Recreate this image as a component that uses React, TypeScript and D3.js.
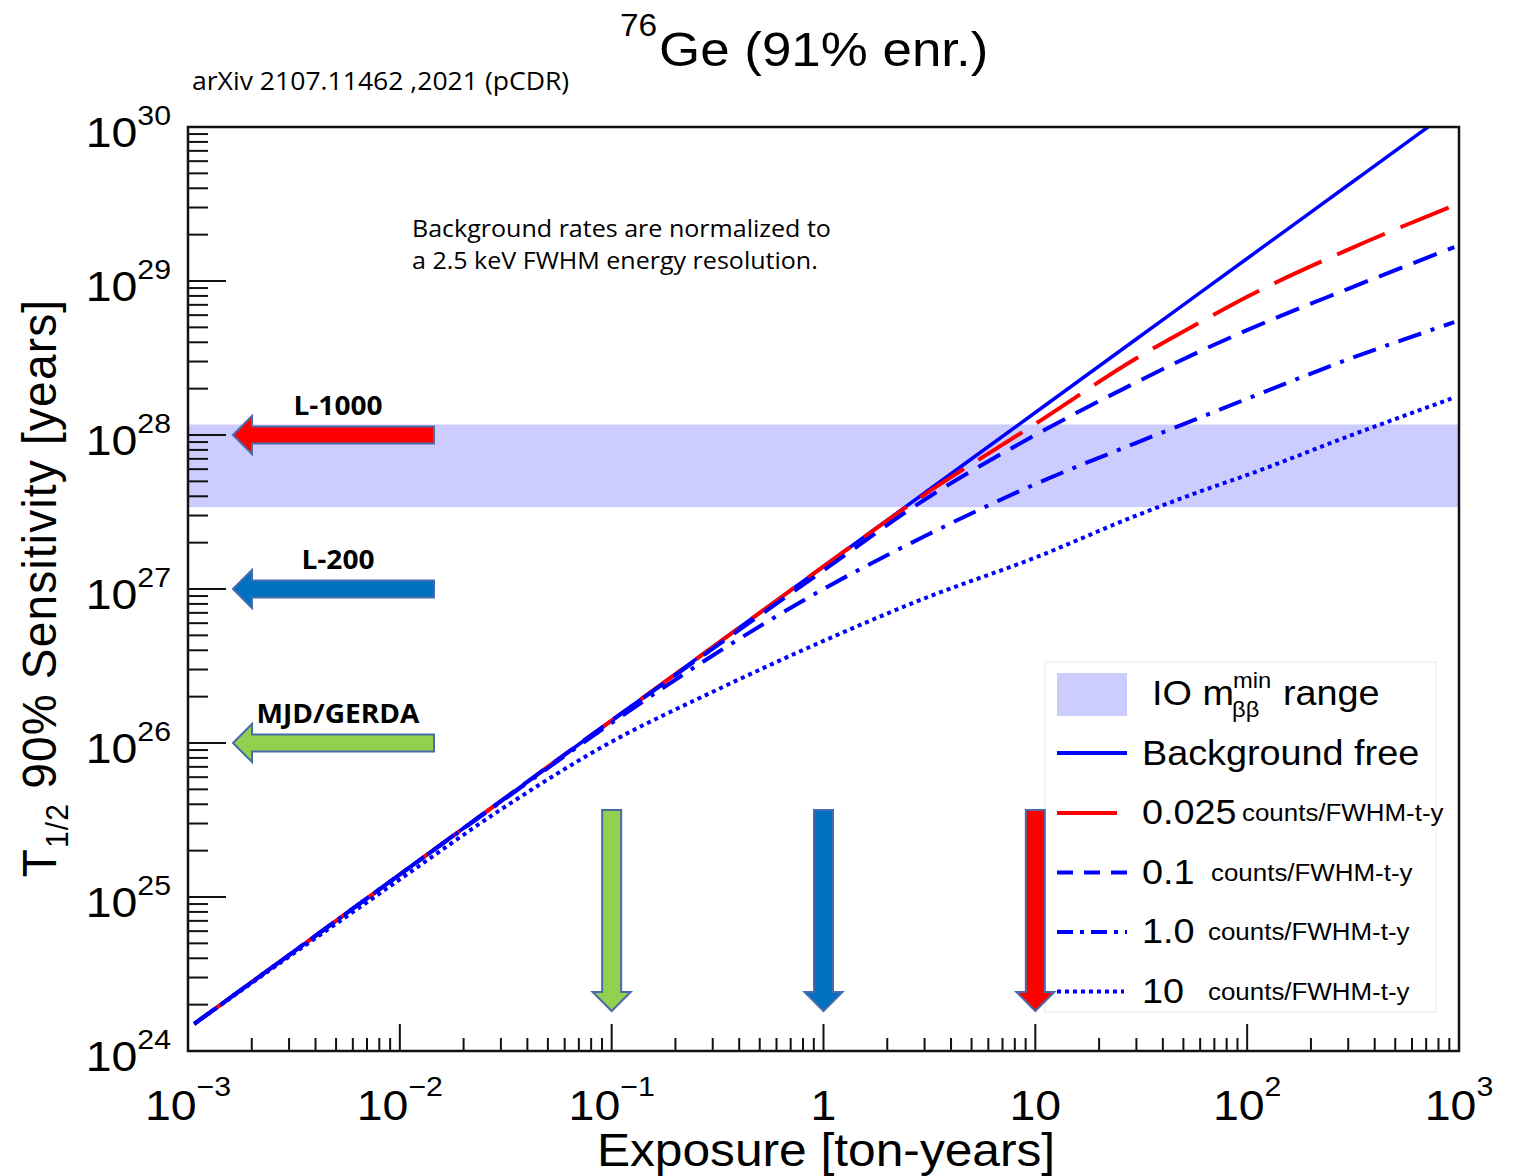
import React from 'react'
import * as d3 from 'd3'

// exposure in ton-years, sensitivity in years
const exposures = [0.00107, 0.003, 0.01, 0.03, 0.1, 0.3, 1, 3, 10, 30, 60, 100, 300, 950]
const bgFree = [1.5e24, 4.2e24, 1.4e25, 4.2e25, 1.4e26, 4.2e26, 1.4e27, 4.2e27, 1.4e28, 4.2e28, 8.4e28, 1.4e29, 4.2e29, 1.33e30]
const bkg0025 = [1.5e24, 4.2e24, 1.4e25, 4.2e25, 1.4e26, 4.2e26, 1.4e27, 4.1e27, 1.18e28, 3.15e28, 5.4e28, 7.9e28, 1.6e29, 3.1e29]
const bkg01 = [1.5e24, 4.2e24, 1.4e25, 4.2e25, 1.4e26, 4.1e26, 1.32e27, 3.8e27, 1.0e28, 2.2e28, 3.5e28, 4.8e28, 8.9e28, 1.66e29]
const bkg1 = [1.5e24, 4.2e24, 1.4e25, 4.15e25, 1.35e26, 3.7e26, 1.0e27, 2.2e27, 4.8e27, 8.9e27, 1.3e28, 1.72e28, 3.1e28, 5.4e28]
const bkg10 = [1.5e24, 4.1e24, 1.3e25, 3.7e25, 1.02e26, 2.15e26, 4.6e26, 8.7e26, 1.6e27, 3.0e27, 4.3e27, 5.5e27, 9.8e27, 1.75e28]

const ioBand = [3.4e27, 1.17e28]

const experiments = ['L-1000', 'L-200', 'MJD/GERDA']
const expSensitivity = [1e28, 1e27, 1e26]
const expExposure = [10, 1, 0.1]
const expColors = ['#ff0000', '#0070c0', '#92d050']

const legendRates = ['0.025', '0.1', '1.0', '10']
const xTickExp = [-3, -2, -1, 0, 1, 2, 3]
const yTickExp = [24, 25, 26, 27, 28, 29, 30]

const W = 1519
const H = 1176
const left = 188, right = 1459, top = 127, bottom = 1051
const SX = 1.08
const ARIAL = 'Liberation Sans, Arial, sans-serif'
const SEGOE = 'Open Sans, sans-serif'

const x = d3.scaleLog().domain([1e-3, 1e3]).range([left, right])
const y = d3.scaleLog().domain([1e24, 1e30]).range([bottom, top])

const line = d3
  .line<number>()
  .x((_, i) => x(exposures[i]))
  .y(d => y(d))
  .curve(d3.curveMonotoneX)

const T = ({ x, y, size, anchor = 'start', weight = 400, family = ARIAL, children }: any) => (
  <text
    transform={`translate(${x},${y}) scale(${SX},1)`}
    fontSize={size}
    fontFamily={family}
    fontWeight={weight}
    textAnchor={anchor}
    fill="#000"
  >
    {children}
  </text>
)

const series = [
  { data: bgFree, color: '#0000ff', dash: null, width: 3.5 },
  { data: bkg0025, color: '#ff0000', dash: '52,17', width: 4 },
  { data: bkg01, color: '#0000ff', dash: '25,12', width: 4 },
  { data: bkg1, color: '#0000ff', dash: '24,10,4,10', width: 4 },
  { data: bkg10, color: '#0000ff', dash: '4,4', width: 4 },
]

const App = () => {
  const yTicks: { v: number; major: boolean }[] = []
  for (let d = 24; d < 30; d++) for (let m = 1; m < 10; m++) yTicks.push({ v: m * 10 ** d, major: m === 1 })
  const xTicks: { v: number; major: boolean }[] = []
  for (let d = -3; d < 3; d++) for (let m = 1; m < 10; m++) xTicks.push({ v: m * 10 ** d, major: m === 1 })

  const outline = '#4a6aab'

  return (
    <svg width={W} height={H} style={{ position: 'absolute', left: 0, top: 0, background: '#fff' }}>
      <defs>
        <clipPath id="plot">
          <rect x={left} y={top} width={right - left} height={bottom - top} />
        </clipPath>
      </defs>

      {/* IO band */}
      <rect
        x={left}
        y={y(ioBand[1])}
        width={right - left}
        height={y(ioBand[0]) - y(ioBand[1])}
        fill="#ccccff"
      />

      {/* ticks */}
      {yTicks.map((t, i) => (
        <line key={'y' + i} x1={left} x2={left + (t.major ? 38 : 20)} y1={y(t.v)} y2={y(t.v)} stroke="#111" strokeWidth={2} />
      ))}
      {xTicks.map((t, i) => (
        <line key={'x' + i} x1={x(t.v)} x2={x(t.v)} y1={bottom} y2={bottom - (t.major ? 27 : 13)} stroke="#111" strokeWidth={2} />
      ))}

      {/* curves */}
      <g clipPath="url(#plot)">
        {series.map((s, i) => (
          <path
            key={i}
            d={line(s.data) as string}
            fill="none"
            stroke={s.color}
            strokeWidth={s.width}
            strokeDasharray={s.dash ?? undefined}
          />
        ))}
      </g>

      {/* frame */}
      <rect x={left} y={top} width={right - left} height={bottom - top} fill="none" stroke="#111" strokeWidth={2.5} />

      {/* tick labels */}
      {yTickExp.map(e => (
        <T key={'yl' + e} x={171} y={y(10 ** e) + 20} size={43} anchor="end">
          10<tspan fontSize={28} dy={-22}>{e}</tspan>
        </T>
      ))}
      {xTickExp.map(e => (
        <T key={'xl' + e} x={x(10 ** e)} y={1120} size={43} anchor="middle">
          {e === 0 ? '1' : e === 1 ? '10' : (
            <>
              10<tspan fontSize={28} dy={-24}>{e < 0 ? '\u2212' + -e : e}</tspan>
            </>
          )}
        </T>
      ))}

      {/* axis titles */}
      <T x={826} y={1166} size={46} anchor="middle">Exposure [ton-years]</T>
      <text
        transform="translate(56,588) scale(1.04,1) rotate(-90)"
        fontSize={46}
        fontFamily={ARIAL}
        textAnchor="middle"
        letterSpacing={1.2}
      >
        T<tspan fontSize={30} dy={12}>1/2</tspan>
        <tspan dy={-12}> 90% Sensitivity [years]</tspan>
      </text>

      {/* titles and notes */}
      <T x={620} y={36} size={31}>76</T>
      <T x={659} y={66} size={49}>Ge (91% enr.)</T>
      <T x={192} y={90} size={24.6} family={SEGOE}>arXiv 2107.11462 ,2021 (pCDR)</T>
      <T x={412} y={237} size={23.2} family={SEGOE}>Background rates are normalized to</T>
      <T x={412} y={269} size={23.2} family={SEGOE}>a 2.5 keV FWHM energy resolution.</T>

      {/* legend */}
      <rect x={1045} y={662} width={391} height={350} fill="#fff" stroke="#f0f0f0" strokeWidth={1.5} />
      <rect x={1057} y={673} width={70} height={43} fill="#ccccff" />
      <T x={1152} y={705} size={35}>IO m</T>
      <T x={1233} y={688} size={22}>min</T>
      <T x={1232} y={717} size={22}>ββ</T>
      <T x={1283} y={705} size={35}>range</T>

      <line x1={1057} x2={1127} y1={753} y2={753} stroke="#0000ff" strokeWidth={4} />
      <T x={1142} y={765} size={35}>Background free</T>

      {legendRates.map((r, i) => {
        const ly = 813 + i * 59.5
        const styles = [
          { dash: undefined, x2: 1117, color: '#ff0000' },
          { dash: '16,11', x2: 1127, color: '#0000ff' },
          { dash: '16,7,4,7', x2: 1127, color: '#0000ff' },
          { dash: '4,4', x2: 1124, color: '#0000ff' },
        ]
        const countsX = [1242, 1211, 1208, 1208]
        return (
          <g key={r}>
            <line x1={1057} x2={styles[i].x2} y1={ly} y2={ly} stroke={styles[i].color} strokeWidth={4} strokeDasharray={styles[i].dash} />
            <T x={1142} y={ly + 11} size={35}>{r}</T>
            <T x={countsX[i]} y={ly + 8} size={24}>counts/FWHM-t-y</T>
          </g>
        )
      })}

      {/* experiment arrows (left) */}
      {experiments.map((name, i) => {
        const cy = y(expSensitivity[i])
        const tip = 233
        const pts = [
          [tip, cy], [tip + 19, cy - 19], [tip + 19, cy - 8.5], [434, cy - 8.5],
          [434, cy + 8.5], [tip + 19, cy + 8.5], [tip + 19, cy + 19],
        ]
        return (
          <g key={name}>
            <polygon points={pts.map(p => p.join(',')).join(' ')} fill={expColors[i]} stroke={outline} strokeWidth={2} />
            <T x={338} y={cy - 20} size={26} weight={700} family={SEGOE} anchor="middle">{name}</T>
          </g>
        )
      })}

      {/* experiment arrows (bottom) */}
      {expExposure.map((e, i) => {
        const cx = x(e)
        const pts = [
          [cx - 9.5, 810], [cx + 9.5, 810], [cx + 9.5, 992], [cx + 19, 992],
          [cx, 1011], [cx - 19, 992], [cx - 9.5, 992],
        ]
        return <polygon key={'d' + i} points={pts.map(p => p.join(',')).join(' ')} fill={expColors[i]} stroke={outline} strokeWidth={2} />
      })}
    </svg>
  )
}

export default App
